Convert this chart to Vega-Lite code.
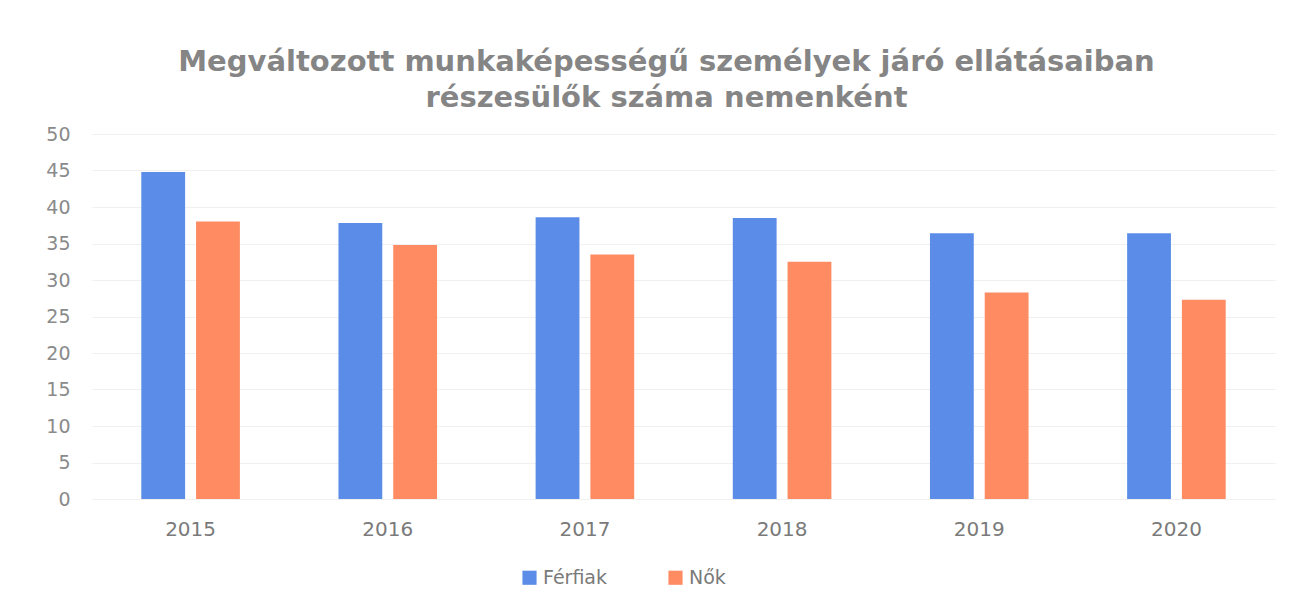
{
  "$schema": "https://vega.github.io/schema/vega-lite/v6.json",
  "autosize": {"type": "none"},
  "width": 1183,
  "height": 365,
  "padding": {"left": 92, "top": 134, "right": 25, "bottom": 105},
  "background": "white",
  "title": {
    "text": ["Megváltozott munkaképességű személyek járó ellátásaiban", "részesülők száma nemenként"],
    "font": "DejaVu Sans",
    "fontSize": 29,
    "fontWeight": "bold",
    "color": "#858585",
    "lineHeight": 36,
    "anchor": "middle",
    "dx": -17,
    "offset": 12
  },
  "data": {
    "values": [
      {"ev": "2015", "nem": "Férfiak", "ertek": 44.8},
      {"ev": "2015", "nem": "Nők", "ertek": 38.0},
      {"ev": "2016", "nem": "Férfiak", "ertek": 37.8},
      {"ev": "2016", "nem": "Nők", "ertek": 34.8},
      {"ev": "2017", "nem": "Férfiak", "ertek": 38.6},
      {"ev": "2017", "nem": "Nők", "ertek": 33.5},
      {"ev": "2018", "nem": "Férfiak", "ertek": 38.5},
      {"ev": "2018", "nem": "Nők", "ertek": 32.5},
      {"ev": "2019", "nem": "Férfiak", "ertek": 36.4},
      {"ev": "2019", "nem": "Nők", "ertek": 28.3},
      {"ev": "2020", "nem": "Férfiak", "ertek": 36.4},
      {"ev": "2020", "nem": "Nők", "ertek": 27.3}
    ]
  },
  "mark": {"type": "bar"},
  "encoding": {
    "x": {
      "field": "ev", "type": "nominal",
      "scale": {"paddingInner": 0.5, "paddingOuter": 0.25},
      "axis": {
        "title": null, "labelAngle": 0, "domain": false, "ticks": false,
        "labelFont": "DejaVu Sans", "labelFontSize": 20, "labelColor": "#7a7a7a",
        "labelPadding": 20, "grid": false
      }
    },
    "xOffset": {"field": "nem", "type": "nominal", "scale": {"paddingInner": 0.2}},
    "y": {
      "field": "ertek", "type": "quantitative",
      "scale": {"domain": [0, 50]},
      "axis": {
        "title": null, "values": [0, 5, 10, 15, 20, 25, 30, 35, 40, 45, 50],
        "domain": false, "ticks": false,
        "labelFont": "DejaVu Sans", "labelFontSize": 19, "labelColor": "#8a8a8a",
        "labelPadding": 22, "gridColor": "#f0f0f0", "gridWidth": 1
      }
    },
    "color": {
      "field": "nem", "type": "nominal",
      "scale": {"domain": ["Férfiak", "Nők"], "range": ["#5b8de8", "#ff8b62"]},
      "legend": {
        "title": null, "orient": "none", "direction": "horizontal",
        "legendX": 428, "legendY": 434,
        "symbolType": "square", "symbolSize": 200,
        "labelFont": "DejaVu Sans", "labelFontSize": 19, "labelColor": "#7a7a7a",
        "columnPadding": 58
      }
    }
  },
  "config": {"view": {"stroke": null}}
}
